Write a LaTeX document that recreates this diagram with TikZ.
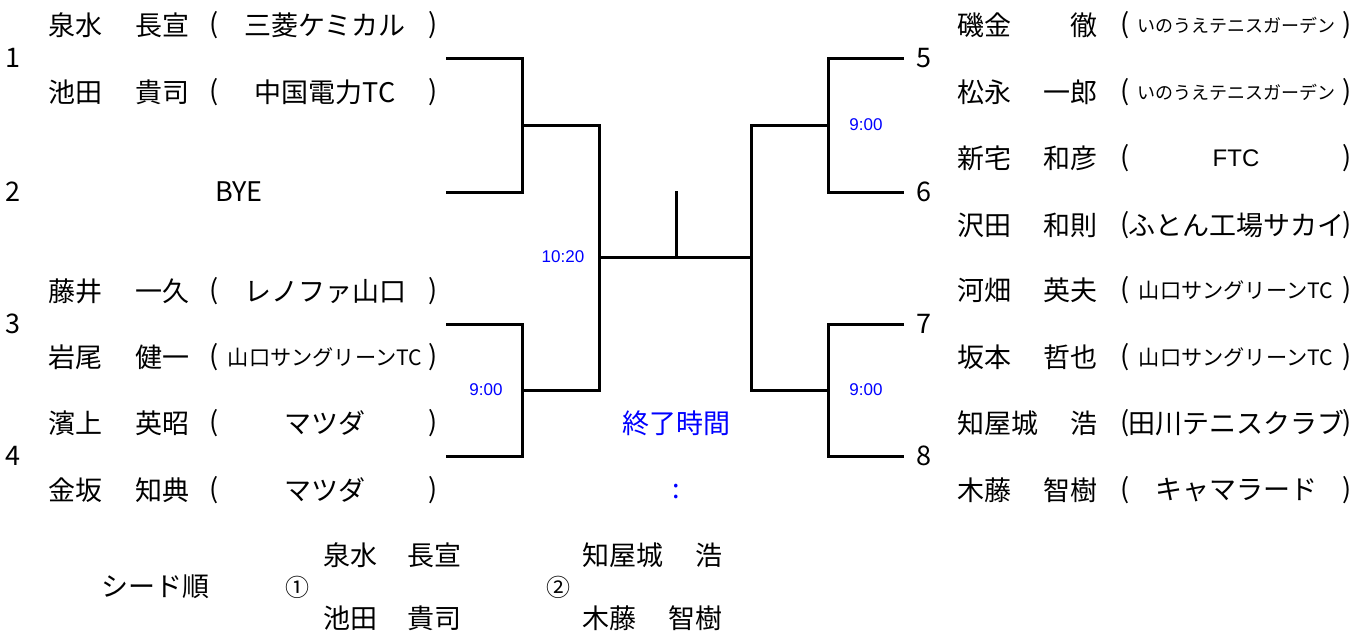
\documentclass[tikz,border=0pt]{standalone}
\usepackage{fontspec}
\setmainfont{Noto Sans CJK JP}
\newfontfamily\latinf{Liberation Sans}
\usetikzlibrary{positioning, calc}

\newcommand\bigf{\fontsize{13.5}{16}\selectfont}
\newcommand\midf{\fontsize{10.6}{12}\selectfont}
\newcommand\smallf{\fontsize{9}{11}\selectfont}
\newcommand\ftcf{\latinf\fontsize{12}{14}\selectfont}

\tikzset{
  player/.style={font=\bigf, inner sep=0pt},
  clock/.style={font=\latinf\fontsize{8.5}{10}\selectfont, text=blue, inner sep=0pt},
  seedmark/.style={font=\fontsize{12}{14}\selectfont, inner sep=0pt},
  bracket/.style={line width=1.5pt},
}

\begin{document}
\begin{tikzpicture}[x=0.5pt, y=-0.5pt]
\useasboundingbox (0,0) rectangle (1368,634);

% Left half
\foreach \id/\y/\sur/\giv/\club/\cs in {a/25/泉水/長宣/三菱ケミカル/\bigf,
    b/92/池田/貴司/中国電力TC/\bigf, c/291/藤井/一久/レノファ山口/\bigf,
    d/357/岩尾/健一/山口サングリーンTC/\midf, e/423/濱上/英昭/マツダ/\bigf,
    f/490/金坂/知典/マツダ/\bigf}{
  \node[player, anchor=west] (sur-\id) at (48,\y) {\sur};
  \node[player, anchor=east] (giv-\id) at (190,\y) {\giv};
  \node[player] (lp-\id) at (214,\y) {(};
  \node[player, font=\cs] (club-\id) at (325,\y) {\club};
  \node[player] (rp-\id) at (433,\y) {)};
}
\node[player] (bye) at (239,192) {BYE};

% Right half
\foreach \id/\y/\sur/\giv/\club/\cs in {g/25/磯金/徹/いのうえテニスガーデン/\smallf,
    h/92/松永/一郎/いのうえテニスガーデン/\smallf, i/158/新宅/和彦/FTC/\ftcf,
    j/225/沢田/和則/ふとん工場サカイ/\bigf, k/290/河畑/英夫/山口サングリーンTC/\midf,
    l/357/坂本/哲也/山口サングリーンTC/\midf, m/423/知屋城/浩/田川テニスクラブ/\bigf,
    n/490/木藤/智樹/キャマラード/\bigf}{
  \node[player, anchor=west] (sur-\id) at (957,\y) {\sur};
  \node[player, anchor=east] (giv-\id) at (1098,\y) {\giv};
  \node[player] (lp-\id) at (1125,\y) {(};
  \node[player, font=\cs] (club-\id) at (1236,\y) {\club};
  \node[player] (rp-\id) at (1347,\y) {)};
}

% Bracket
\coordinate (e1) at (446,58);  \coordinate (e2) at (446,192);
\coordinate (e3) at (446,324); \coordinate (e4) at (446,456);
\coordinate (e5) at (904,58);  \coordinate (e6) at (904,192);
\coordinate (e7) at (904,324); \coordinate (e8) at (904,456);
\coordinate (m12) at (522,125); \coordinate (m34) at (522,390);
\coordinate (m56) at (828,125); \coordinate (m78) at (828,390);
\coordinate (s1) at (599,125); \coordinate (s2) at (599,390);
\coordinate (s3) at (751,125); \coordinate (s4) at (751,390);
\coordinate (c) at (676,257);  \coordinate (top) at (676,191);

\draw[bracket] (e1) -| (m12) |- (e2);
\draw[bracket] (e3) -| (m34) |- (e4);
\draw[bracket] (e5) -| (m56) |- (e6);
\draw[bracket] (e7) -| (m78) |- (e8);
\draw[bracket] (m12) -- (s1) -- (s2) -- (m34);
\draw[bracket] (m56) -- (s3) -- (s4) -- (m78);
\draw[bracket] (s1 |- c) -- (s3 |- c);
\draw[bracket] (top) -- (c);

% Draw numbers
\foreach \n in {1,...,4}
  \node[player] (num-\n) at (13,0 |- e\n) {\n};
\foreach \n in {5,...,8}
  \node[player, right=6pt of e\n] (num-\n) {\n};

% Times
\node[clock] (t1) at (563,257) {10:20};
\node[clock] (t2) at (486,390) {9:00};
\node[clock] (t3) at (866,125) {9:00};
\node[clock] (t4) at (866,390) {9:00};
\node[player, text=blue] (end) at (676,423) {終了時間};
\node[player, text=blue] (endtime) at (676,492) {:};

% Seeds
\node[player] (seed) at (155,587) {シード順};
\node[seedmark] (seed1) at (297,587) {①};
\node[player, anchor=west] (s1a) at (323,555) {泉水};
\node[player, anchor=east] (s1b) at (462,555) {長宣};
\node[player, anchor=west] (s1c) at (323,618) {池田};
\node[player, anchor=east] (s1d) at (462,618) {貴司};
\node[seedmark] (seed2) at (558,587) {②};
\node[player, anchor=west] (s2a) at (582,555) {知屋城};
\node[player, anchor=east] (s2b) at (723,555) {浩};
\node[player, anchor=west] (s2c) at (582,618) {木藤};
\node[player, anchor=east] (s2d) at (723,618) {智樹};
\end{tikzpicture}
\end{document}
